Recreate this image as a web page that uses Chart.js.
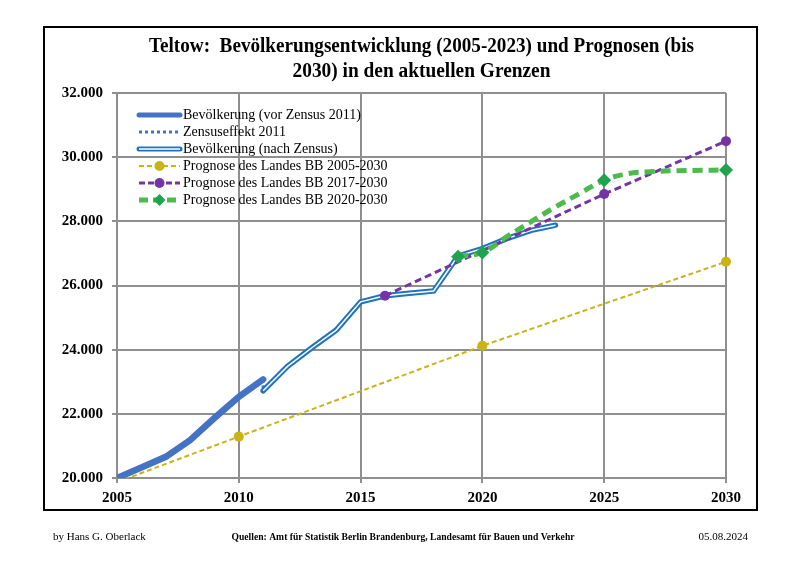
<!DOCTYPE html>
<html>
<head>
<meta charset="utf-8">
<script src="https://cdn.jsdelivr.net/npm/chart.js@4"></script>
<style>
  body { margin: 0; background: #fff; }
  #wrap { width: 800px; height: 566px; }
</style>
</head>
<body>
<div id="wrap"><canvas id="grafik" width="800" height="566"></canvas></div>
<script>
// Daten
const jahreVor = [2005, 2006, 2007, 2008, 2009, 2010, 2011];
const bevVor = [20000, 20330, 20660, 21180, 21870, 22530, 23075];

const jahreZensus = [2011, 2011];
const bevZensus = [23075, 22720];

const jahreNach = [2011, 2012, 2013, 2014, 2015, 2016, 2017, 2018, 2019, 2020, 2021, 2022, 2023];
const bevNach = [22720, 23480, 24060, 24610, 25490, 25680, 25760, 25830, 26920, 27150, 27460, 27720, 27880];

const jahreProg05 = [2005, 2010, 2020, 2030];
const prog05 = [19870, 21290, 24120, 26740];
const markerProg05 = [0, 5, 5, 5];

const jahreProg17 = [2016, 2025, 2030];
const prog17 = [25680, 28850, 30500];

const jahreProg20 = [2019, 2020, 2021, 2022, 2023, 2024, 2025, 2026, 2027, 2028, 2029, 2030];
const prog20 = [26900, 27030, 27520, 27990, 28450, 28870, 29280, 29490, 29550, 29580, 29590, 29600];
const markerProg20 = [7, 7, 0, 0, 0, 0, 7, 0, 0, 0, 0, 7];

const xTicks = [2005, 2010, 2015, 2020, 2025, 2030];
const yTicks = [20000, 22000, 24000, 26000, 28000, 30000, 32000];

const titelZeilen = ["Teltow:  Bevölkerungsentwicklung (2005-2023) und Prognosen (bis", "2030) in den aktuellen Grenzen"];
const fussLinks = "by Hans G. Oberlack";
const fussMitte = "Quellen: Amt für Statistik Berlin Brandenburg, Landesamt für Bauen und Verkehr";
const fussRechts = "05.08.2024";

const SERIF = "'Liberation Serif', 'DejaVu Serif', serif";

function punkte(xs, ys) {
  return xs.map((x, i) => ({ x: x, y: ys[i] }));
}

function tausender(n) {
  return String(n).replace(/\B(?=(\d{3})+(?!\d))/g, ".");
}

const farbeVor = "#4472c4";
const farbeNach = "#1f74bb";
const farbeGelb = "#c8b416";
const farbeLila = "#7434a6";
const farbeGruen = "#4cbb4c";
const farbeRaute = "#1fa34f";
const farbeGitter = "#8f8f8f";

// Legende, Titel, Rahmen und Fusszeile selbst zeichnen
const extras = {
  id: "extras",
  beforeDraw(chart) {
    const ctx = chart.ctx;
    ctx.save();
    ctx.fillStyle = "#fff";
    ctx.fillRect(0, 0, chart.width, chart.height);
    ctx.strokeStyle = "#000";
    ctx.lineWidth = 2;
    ctx.strokeRect(44, 27, 713, 483);
    ctx.restore();
  },
  afterDraw(chart) {
    const ctx = chart.ctx;
    const area = chart.chartArea;
    const mitte = (area.left + area.right) / 2;
    ctx.save();

    // Titel
    ctx.fillStyle = "#000";
    ctx.textAlign = "center";
    ctx.textBaseline = "middle";
    ctx.font = "bold 20px " + SERIF;
    ctx.fillText(titelZeilen[0], mitte, 47, 545);
    ctx.fillText(titelZeilen[1], mitte, 72, 258);

    // Legende
    const lx1 = 139, lx2 = 180, tx = 183;
    const zeilen = [115, 132, 149, 166, 183, 200];
    const texte = [
      "Bevölkerung (vor Zensus 2011)",
      "Zensuseffekt 2011",
      "Bevölkerung (nach Zensus)",
      "Prognose des Landes BB 2005-2030",
      "Prognose des Landes BB 2017-2030",
      "Prognose des Landes BB 2020-2030"
    ];
    function linie(y, farbe, breite, dash, cap) {
      ctx.beginPath();
      ctx.setLineDash(dash);
      ctx.lineCap = cap || "butt";
      ctx.strokeStyle = farbe;
      ctx.lineWidth = breite;
      ctx.moveTo(lx1, y);
      ctx.lineTo(lx2, y);
      ctx.stroke();
      ctx.setLineDash([]);
    }
    linie(zeilen[0], farbeVor, 5, [], "round");
    linie(zeilen[1], farbeVor, 3, [3, 3]);
    linie(zeilen[2], farbeNach, 5, [], "round");
    linie(zeilen[2], "#fff", 1.5, []);
    linie(zeilen[3], farbeGelb, 2, [5, 3]);
    linie(zeilen[4], farbeLila, 3, [6, 3]);
    linie(zeilen[5], farbeGruen, 5, [9, 5]);
    const mx = (lx1 + lx2) / 2;
    ctx.fillStyle = farbeGelb;
    ctx.beginPath(); ctx.arc(mx, zeilen[3], 5, 0, Math.PI * 2); ctx.fill();
    ctx.fillStyle = farbeLila;
    ctx.beginPath(); ctx.arc(mx, zeilen[4], 5, 0, Math.PI * 2); ctx.fill();
    ctx.fillStyle = farbeRaute;
    ctx.beginPath();
    ctx.moveTo(mx, zeilen[5] - 6); ctx.lineTo(mx + 6, zeilen[5]);
    ctx.lineTo(mx, zeilen[5] + 6); ctx.lineTo(mx - 6, zeilen[5]);
    ctx.closePath(); ctx.fill();

    ctx.fillStyle = "#000";
    ctx.textAlign = "left";
    ctx.font = "14px " + SERIF;
    texte.forEach((t, i) => ctx.fillText(t, tx, zeilen[i]));

    // Fusszeile
    ctx.font = "11px " + SERIF;
    ctx.fillText(fussLinks, 53, 537);
    ctx.textAlign = "right";
    ctx.fillText(fussRechts, 748, 537);
    ctx.textAlign = "center";
    ctx.font = "bold 11px " + SERIF;
    ctx.fillText(fussMitte, 403, 537, 343);
    ctx.restore();
  }
};

new Chart(document.getElementById("grafik"), {
  type: "line",
  data: {
    datasets: [
      {
        label: "Prognose des Landes BB 2020-2030",
        data: punkte(jahreProg20, prog20),
        borderColor: farbeGruen,
        borderWidth: 5,
        borderDash: [10, 6],
        tension: 0.4,
        clip: false,
        pointStyle: "rectRot",
        pointRadius: markerProg20,
        pointBackgroundColor: farbeRaute,
        pointBorderColor: farbeRaute,
        pointBorderWidth: 0
      },
      {
        label: "Prognose des Landes BB 2017-2030",
        data: punkte(jahreProg17, prog17),
        borderColor: farbeLila,
        borderWidth: 3,
        borderDash: [7, 4],
        clip: false,
        pointRadius: 5,
        pointBackgroundColor: farbeLila,
        pointBorderWidth: 0
      },
      {
        label: "Prognose des Landes BB 2005-2030",
        data: punkte(jahreProg05, prog05),
        borderColor: farbeGelb,
        borderWidth: 2,
        borderDash: [5, 3],
        clip: { left: 0, top: 10, right: 10, bottom: 0 },
        pointRadius: markerProg05,
        pointBackgroundColor: farbeGelb,
        pointBorderWidth: 0
      },
      {
        label: "nach Zensus (innen)",
        data: punkte(jahreNach, bevNach),
        borderColor: "#fff",
        borderWidth: 1.5,
        pointRadius: 0
      },
      {
        label: "Bevölkerung (nach Zensus)",
        data: punkte(jahreNach, bevNach),
        borderColor: farbeNach,
        borderWidth: 5.5,
        borderCapStyle: "round",
        pointRadius: 0
      },
      {
        label: "Zensuseffekt 2011",
        data: punkte(jahreZensus, bevZensus),
        borderColor: farbeVor,
        borderWidth: 3,
        borderDash: [3, 3],
        pointRadius: 0
      },
      {
        label: "Bevölkerung (vor Zensus 2011)",
        data: punkte(jahreVor, bevVor),
        borderColor: farbeVor,
        borderWidth: 6.5,
        borderCapStyle: "round",
        pointRadius: 0
      }
    ]
  },
  options: {
    responsive: false,
    animation: false,
    events: [],
    layout: { padding: { left: 40, right: 74, top: 93, bottom: 58 } },
    plugins: {
      legend: { display: false },
      title: { display: false },
      tooltip: { enabled: false }
    },
    scales: {
      x: {
        type: "linear",
        min: 2005,
        max: 2030,
        afterBuildTicks: (s) => { s.ticks = xTicks.map(v => ({ value: v })); },
        afterFit: (s) => { s.height = 30; },
        grid: { color: farbeGitter, lineWidth: 2, tickLength: 5 },
        border: { color: farbeGitter, width: 2 },
        ticks: {
          color: "#000",
          font: { family: SERIF, size: 15, weight: "bold" },
          padding: 6,
          maxRotation: 0,
          callback: (v) => String(v)
        }
      },
      y: {
        min: 20000,
        max: 32000,
        afterBuildTicks: (s) => { s.ticks = yTicks.map(v => ({ value: v })); },
        afterFit: (s) => { s.width = 77; },
        grid: { color: farbeGitter, lineWidth: 2, tickLength: 5 },
        border: { color: farbeGitter, width: 2 },
        ticks: {
          color: "#000",
          font: { family: SERIF, size: 15, weight: "bold" },
          padding: 9,
          callback: (v) => tausender(v)
        }
      }
    }
  },
  plugins: [extras]
});
</script>
</body>
</html>
